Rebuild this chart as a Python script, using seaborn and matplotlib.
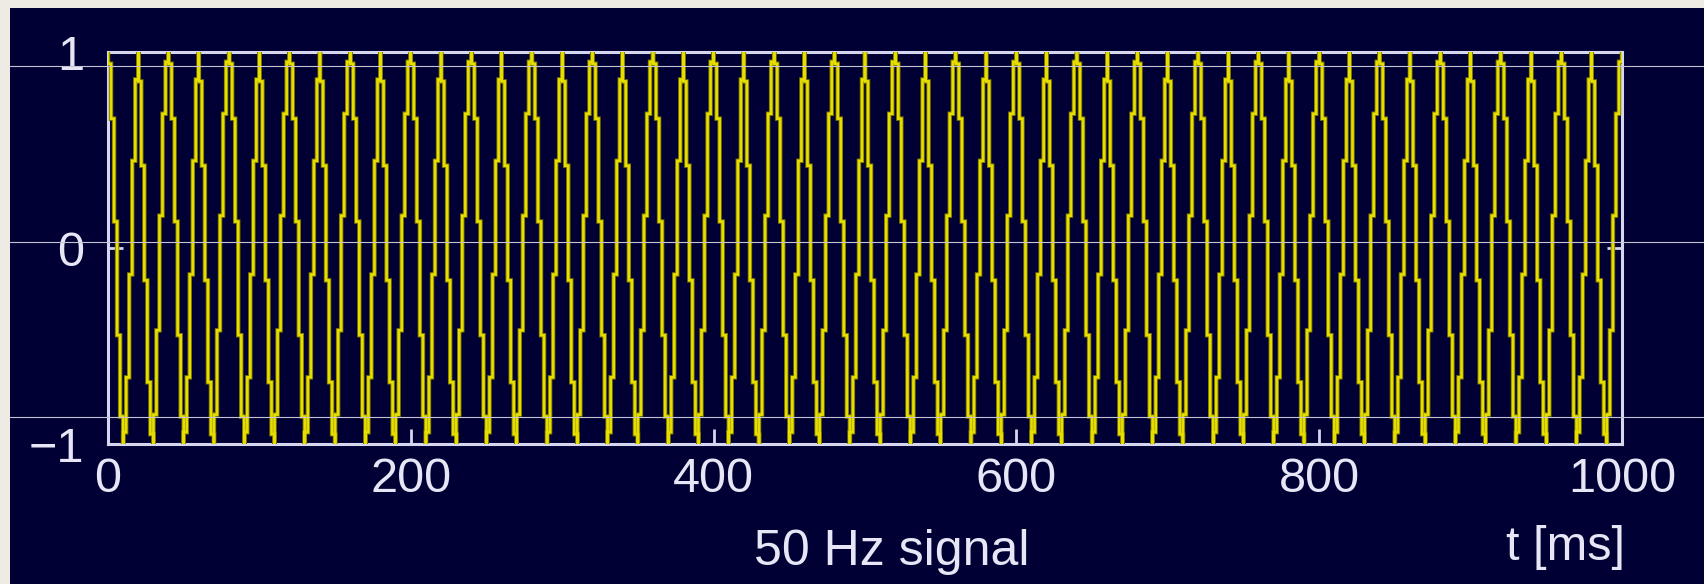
import numpy as np
import pandas as pd
import matplotlib
matplotlib.use("Agg")
import matplotlib.pyplot as plt
import matplotlib.patheffects as pe
from matplotlib.lines import Line2D
from matplotlib.patches import Rectangle
import seaborn as sns

# ---- data ----
# sampled levels of a 20 ms period; the picture alternates two sampling phases
cycle_1 = [1.00, 0.88, 0.44, -0.17, -0.72, -1.00, -0.88, -0.44, 0.17, 0.72]
cycle_2 = [1.00, 0.70, 0.14, -0.47, -0.90, -1.00, -0.70, -0.14, 0.47, 0.90]
cycle_order = "12121212121212121212121212121212121212121212121212"  # 50 periods in 1000 ms
final_sample = [1.00]
t_start_ms, t_end_ms = 0, 1000
x_ticks = [0, 200, 400, 600, 800, 1000]
y_ticks = [-1, 0, 1]
x_label = "t [ms]"
caption = "50 Hz signal"

signal = []
for c in cycle_order:
    signal.extend(cycle_1 if c == "1" else cycle_2)
signal.extend(final_sample)
v = np.asarray(signal, dtype=float)
t = np.linspace(t_start_ms, t_end_ms, len(v))

# raster-like display: each sample is drawn as a vertical run in its own
# column, joined to its neighbours half way between the sample values
mids = (v[:-1] + v[1:]) / 2
xs, ys = [], []
for k in range(len(v)):
    lo = mids[k - 1] if k > 0 else v[0]
    hi = mids[k] if k < len(v) - 1 else v[-1]
    xs += [t[k], t[k], t[k]]
    ys += [lo, v[k], hi]
df = pd.DataFrame({"t": xs, "v": ys})

# ---- style ----
sns.set_theme(style="white")
plt.rcParams["font.family"] = ["Liberation Sans", "DejaVu Sans"]

NAVY = "#000034"
FRAME = "#d6d6ee"
TEXT = "#e6e6f6"
YELLOW = "#e6de00"
OLIVE = "#7a7400"

W, H = 1704, 584
fig = plt.figure(figsize=(W / 100, H / 100), dpi=100)
fig.patch.set_facecolor("#eeebe5")
fig.add_artist(Rectangle((10 / W, 0), 1 - 10 / W, 1 - 8 / H, transform=fig.transFigure,
                         facecolor=NAVY, edgecolor="none", zorder=-5))

ax = fig.add_axes([108 / W, 1 - 444 / H, (1622 - 108) / W, (444 - 52) / H])
ax.set_facecolor(NAVY)

sns.lineplot(data=df, x="t", y="v", ax=ax, color=YELLOW, lw=1.9,
             estimator=None, sort=False)
for ln in ax.get_lines():
    ln.set_path_effects([pe.Stroke(linewidth=3.2, foreground=OLIVE), pe.Normal()])
    ln.set_solid_joinstyle("miter")

ax.set_xlim(t_start_ms, t_end_ms)
ax.set_ylim(-1, 1)
ax.set_xticks(x_ticks)
ax.set_yticks(y_ticks)
ax.set_xlabel("")
ax.set_ylabel("")
for s in ax.spines.values():
    s.set_color(FRAME)
    s.set_linewidth(2.2)
    s.set_visible(True)
    s.set_zorder(1)
ax.tick_params(axis="both", direction="in", length=11, width=2, color=FRAME,
               labelcolor=TEXT, labelsize=35)
ax.tick_params(axis="y", right=True, left=True, pad=17)
ax.tick_params(axis="x", bottom=True, top=False, pad=9)

fig.text(892 / W, 19 / H, caption, ha="center", va="baseline", color=TEXT, fontsize=36)
fig.text(1566 / W, 24 / H, x_label, ha="center", va="baseline", color=TEXT, fontsize=35)

# thin light guide lines crossing the picture
for yp in (66, 242, 417):
    fig.add_artist(Line2D([10 / W, 1], [1 - yp / H, 1 - yp / H], transform=fig.transFigure,
                          color="#c4c4d4", lw=0.8, zorder=10))

fig.savefig("out.png", dpi=100, facecolor=fig.get_facecolor())
